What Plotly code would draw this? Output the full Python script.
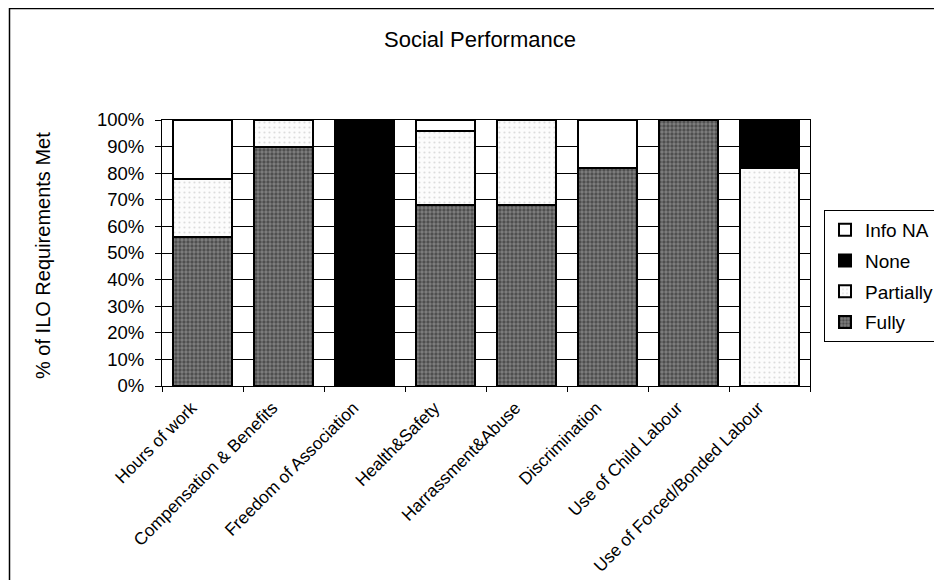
import plotly.graph_objects as go

categories = ["Hours of work", "Compensation & Benefits", "Freedom of Association",
              "Health&Safety", "Harrassment&Abuse", "Discrimination",
              "Use of Child Labour", "Use of Forced/Bonded Labour"]
fully = [56, 90, 0, 68, 68, 82, 100, 0]
partially = [22, 10, 0, 28, 32, 0, 0, 82]
none = [0, 0, 100, 0, 0, 0, 0, 18]
info_na = [22, 0, 0, 4, 0, 18, 0, 0]
y_ticks = [0, 10, 20, 30, 40, 50, 60, 70, 80, 90, 100]
y_ticklabels = [f"{v}%" for v in y_ticks]

FONT = "Arial, Liberation Sans, Helvetica, sans-serif"
line = dict(color="black", width=2)

# plot area in figure pixels
L, R, T, B = 154, 802, 112, 378
W, H = 942, 580
PW, PH = R - L, B - T


def px_x(x):
    return (x - L) / PW


def px_y(y):
    return (B - y) / PH


fig = go.Figure()
fig.add_trace(go.Bar(name="Fully", x=categories, y=fully, legendgroup="a", legendrank=4,
                     marker=dict(color="#555555", line=line,
                                 pattern=dict(shape=".", fgcolor="#1e1e1e", bgcolor="#808080",
                                              size=4, solidity=0.55))))
fig.add_trace(go.Bar(name="Partially", x=categories, y=partially, legendgroup="b", legendrank=3,
                     marker=dict(color="#f8f8f8", line=line,
                                 pattern=dict(shape=".", fgcolor="#bcbcbc", bgcolor="#fcfcfc",
                                              size=5, solidity=0.15))))
fig.add_trace(go.Bar(name="None", x=categories, y=none, legendgroup="c", legendrank=2,
                     marker=dict(color="black", line=line)))
fig.add_trace(go.Bar(name="Info NA", x=categories, y=info_na, legendgroup="d", legendrank=1,
                     marker=dict(color="white", line=line)))

fig.update_layout(
    barmode="stack",
    bargap=0.27,
    width=W, height=H,
    margin=dict(l=L, r=W - R, t=T, b=H - B, autoexpand=False),
    paper_bgcolor="white", plot_bgcolor="white",
    font=dict(family=FONT, color="black", size=18),
    title=dict(text="Social Performance", x=472 / W, xanchor="center", xref="container",
               y=1 - 31 / H, yanchor="middle", yref="container",
               font=dict(size=22, family=FONT, color="black")),
    legend=dict(x=816 / W, y=1 - 202 / H, xref="container", yref="container",
                xanchor="left", yanchor="top",
                bordercolor="black", borderwidth=1, bgcolor="white",
                traceorder="grouped", tracegroupgap=3,
                font=dict(size=19, family=FONT, color="black")),
    showlegend=True,
    xaxis=dict(type="category", tickangle=-45, tickson="boundaries", ticks="outside",
               ticklen=5, tickcolor="black", showline=True, linecolor="black", linewidth=1,
               mirror=True, showgrid=False, ticklabelshift=-11, ticklabelstandoff=4,
               tickfont=dict(size=17.3, family=FONT)),
    yaxis=dict(range=[0, 100], tickvals=y_ticks, ticktext=y_ticklabels, ticks="outside",
               ticklen=6, tickcolor="black", showline=True, linecolor="black", linewidth=1,
               mirror=True, showgrid=True, gridcolor="black", gridwidth=1,
               ticklabelstandoff=7,
               tickfont=dict(size=18.5, family=FONT)),
    annotations=[dict(text="% of ILO Requirements Met", textangle=-90, showarrow=False,
                      xref="paper", yref="paper", x=px_x(35), y=px_y(248),
                      xanchor="center", yanchor="middle",
                      font=dict(size=20, family=FONT, color="black"))],
    shapes=[
        dict(type="rect", xref="paper", yref="paper",
             x0=px_x(1.5), x1=px_x(W - 0.5), y0=px_y(0.5), y1=px_y(H - 0.5),
             line=dict(color="black", width=1.5), fillcolor="rgba(0,0,0,0)", layer="below"),
    ],
)

fig.write_html("out.html")
